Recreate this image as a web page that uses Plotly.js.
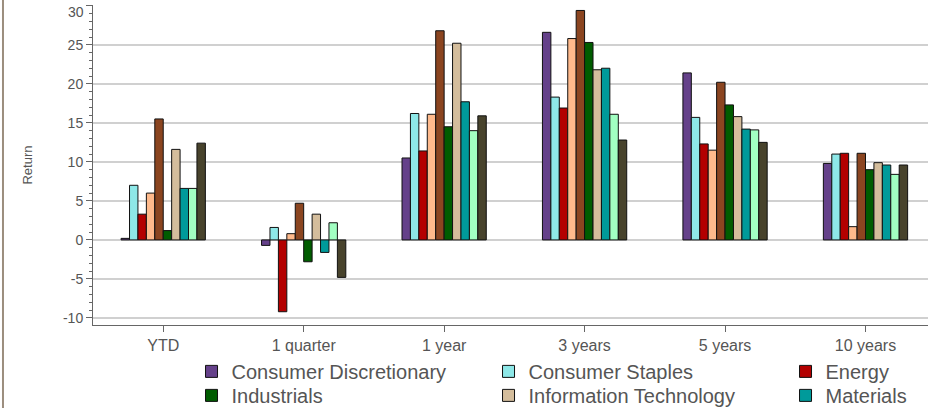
<!DOCTYPE html>
<html>
<head>
<meta charset="utf-8">
<script src="https://cdn.plot.ly/plotly-3.0.1.min.js"></script>
<style>
html,body{margin:0;padding:0;background:#fff;}
#chart{width:928px;height:408px;}
</style>
</head>
<body>
<div id="chart"></div>
<script>
// Categories (periods)
var periods = ["YTD", "1 quarter", "1 year", "3 years", "5 years", "10 years"];

// Sector names
var sectors = ["Consumer Discretionary", "Consumer Staples", "Energy", "Financials", "Health Care",
               "Industrials", "Information Technology", "Materials", "Telecommunication Services", "Utilities"];

// Returns per sector, one value per period
var consumerDiscretionary = [0.2, -0.7, 10.5, 26.6, 21.4, 9.8];
var consumerStaples       = [7.0, 1.6, 16.2, 18.3, 15.7, 11.0];
var energy                = [3.3, -9.2, 11.4, 16.9, 12.3, 11.1];
var financials            = [6.0, 0.8, 16.1, 25.8, 11.5, 1.7];
var healthCare            = [15.5, 4.7, 26.8, 29.4, 20.2, 11.1];
var industrials           = [1.2, -2.8, 14.5, 25.3, 17.3, 9.0];
var infoTech              = [11.6, 3.3, 25.2, 21.8, 15.8, 9.9];
var materials             = [6.6, -1.6, 17.7, 22.0, 14.2, 9.6];
var telecom               = [6.6, 2.2, 14.0, 16.1, 14.1, 8.4];
var utilities             = [12.4, -4.8, 15.9, 12.8, 12.5, 9.6];

var seriesValues = [consumerDiscretionary, consumerStaples, energy, financials, healthCare,
                    industrials, infoTech, materials, telecom, utilities];

// Y tick labels (the top one is drawn nudged down, as in the original)
var yTickVals = [-10, -5, 0, 5, 10, 15, 20, 25, 30];
var yTickText = ["-10", "-5", "0", "5", "10", "15", "20", "25", "30"];

var colors = ["#65418A", "#8EE8E8", "#B30000", "#FFBA8C", "#8B4520",
              "#005C00", "#D4BD9C", "#009A9A", "#A2FFC2", "#48432C"];

// Which legend each sector appears in (null = not shown)
var legendRow = ["legend", "legend", "legend", null, null, "legend2", "legend2", "legend2", null, null];
var legendWidths = [null, null, 90, null, null, null, null, 110, null, null];

var traces = sectors.map(function(name, i) {
  var t = {
    type: "bar",
    name: name,
    x: periods,
    y: seriesValues[i],
    marker: {color: colors[i], line: {color: "#111", width: 1}},
    showlegend: legendRow[i] !== null,
    legend: legendRow[i] || "legend",
    hoverinfo: "x+y+name"
  };
  if (legendWidths[i]) t.legendwidth = legendWidths[i];
  return t;
});

var textColor = "#555555";
var fontFam = "Liberation Sans, Arial, sans-serif";

var lastIdx = yTickVals.length - 1;
var shownTickText = yTickText.map(function(s, i) { return i === lastIdx ? "" : s; });

var legendCommon = {
  orientation: "h",
  xanchor: "left",
  yanchor: "top",
  entrywidth: 252,
  entrywidthmode: "pixels",
  font: {family: fontFam, size: 20, color: textColor},
  bgcolor: "rgba(0,0,0,0)",
  borderwidth: 0,
  itemclick: false,
  itemdoubleclick: false
};

var layout = {
  width: 928,
  height: 408,
  margin: {l: 93, r: 0, t: 5, b: 83, autoexpand: false},
  paper_bgcolor: "#ffffff",
  plot_bgcolor: "#ffffff",
  font: {family: fontFam, color: textColor},
  barmode: "group",
  bargap: 0.4,
  bargroupgap: 0,
  xaxis: {
    type: "category",
    range: [-0.5, 5.445],
    showline: true,
    linecolor: "#666",
    linewidth: 1,
    ticks: "outside",
    ticklen: 6,
    tickcolor: "#666",
    tickfont: {family: fontFam, size: 16, color: textColor},
    showgrid: false,
    zeroline: false
  },
  yaxis: {
    range: [-10.9, 30.1],
    tickmode: "array",
    tickvals: yTickVals,
    ticktext: shownTickText,
    showline: true,
    linecolor: "#666",
    linewidth: 1,
    ticks: "outside",
    ticklen: 6,
    tickcolor: "#666",
    tickfont: {family: fontFam, size: 14, color: textColor},
    showgrid: true,
    gridcolor: "#D0D0D0",
    gridwidth: 2,
    zeroline: true,
    zerolinecolor: "#D0D0D0",
    zerolinewidth: 2,
    minor: {dtick: 1, tick0: 0, ticks: "outside", ticklen: 3, tickcolor: "#666", showgrid: false},
    title: {text: "Return", font: {family: fontFam, size: 13, color: textColor}, standoff: 27}
  },
  annotations: [{
    xref: "paper", yref: "y", x: 0, y: yTickVals[lastIdx],
    xanchor: "right", yanchor: "middle", xshift: -7, yshift: -6,
    text: yTickText[lastIdx], showarrow: false,
    font: {family: fontFam, size: 14, color: textColor}
  }],
  legend: Object.assign({}, legendCommon, {x: 0.118, y: -0.084}),
  legend2: Object.assign({}, legendCommon, {x: 0.118, y: -0.159}),
  shapes: [{
    type: "line", xref: "paper", yref: "paper",
    x0: -0.1078, x1: -0.1078, y0: -0.3, y1: 1.05,
    line: {color: "#9C8E7E", width: 2}
  }]
};

Plotly.newPlot("chart", traces, layout, {displayModeBar: false, staticPlot: true});
</script>
</body>
</html>
